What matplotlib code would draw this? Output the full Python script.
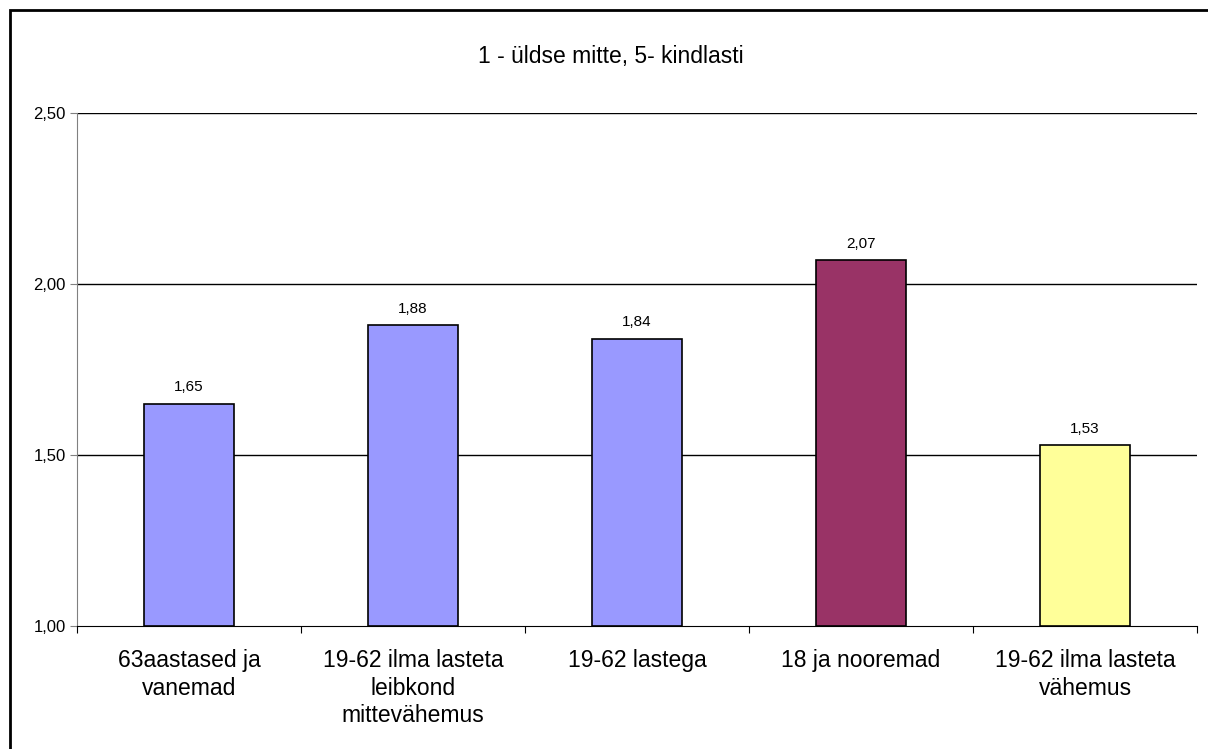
import matplotlib
matplotlib.use("Agg")
import matplotlib.pyplot as plt
from matplotlib.patches import Rectangle

categories = ["63aastased ja\nvanemad", "19-62 ilma lasteta\nleibkond\nmittevähemus",
              "19-62 lastega", "18 ja nooremad", "19-62 ilma lasteta\nvähemus"]
values = [1.65, 1.88, 1.84, 2.07, 1.53]
labels = ["1,65", "1,88", "1,84", "2,07", "1,53"]
colors = ["#9999FF", "#9999FF", "#9999FF", "#993366", "#FFFF99"]
yticks = [1.0, 1.5, 2.0, 2.5]
ytick_labels = ["1,00", "1,50", "2,00", "2,50"]
title = "1 - üldse mitte, 5- kindlasti"

plt.rcParams['font.family'] = ['Liberation Sans', 'DejaVu Sans']

W, H = 1208, 749
fig = plt.figure(figsize=(W/100, H/100), dpi=100)
ax = fig.add_axes([77/W, 1 - 626/H, (1197-77)/W, (626-113)/H])

# figure border
fig.patches.append(Rectangle((10/W, -0.01), (W+20)/W, (H-10)/H + 0.01, transform=fig.transFigure,
                             fill=False, edgecolor="black", linewidth=2))

x = list(range(len(categories)))
ax.bar(x, [v - 1.0 for v in values], bottom=1.0, width=0.4, color=colors,
       edgecolor="black", linewidth=1.2, zorder=3)
for xi, v, lab in zip(x, values, labels):
    ax.text(xi, v + 0.027, lab, ha="center", va="bottom", fontsize=11)

ax.set_xlim(-0.5, len(categories) - 0.5)
ax.set_ylim(1.0, 2.5)
ax.set_yticks(yticks)
ax.set_yticklabels(ytick_labels, fontsize=12)
for y in yticks[1:]:
    ax.axhline(y, color="black", linewidth=1, zorder=1)

ax.set_xticks([i + 0.5 for i in range(-1, len(categories))])
ax.set_xticklabels([])
ax.tick_params(axis="x", direction="out", length=5, color="black")
ax.tick_params(axis="y", direction="out", length=5, color="#808080", pad=3)
for xi, c in zip(x, categories):
    ax.text(xi, -0.045, c, transform=ax.get_xaxis_transform(), ha="center", va="top",
            fontsize=16.5, linespacing=1.25)

for s in ["top", "right"]:
    ax.spines[s].set_visible(False)
ax.spines["left"].set_color("#808080")
ax.spines["bottom"].set_color("black")

fig.text(611/W, 1 - 56/H, title, ha="center", va="center", fontsize=16.5)

fig.savefig("out.png", dpi=100)
